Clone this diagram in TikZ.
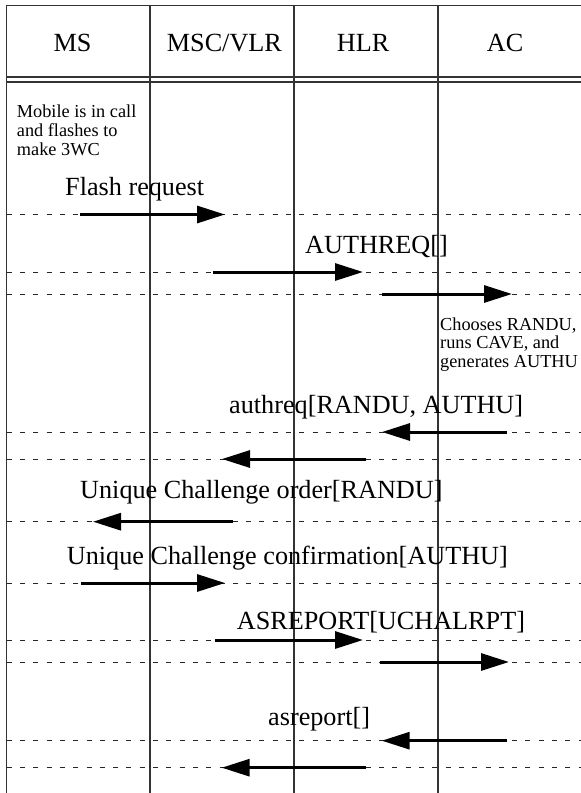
\documentclass[tikz,border=0pt]{standalone}
\usepackage{fontspec}
\setmainfont{Liberation Serif}
\usetikzlibrary{arrows.meta}
\begin{document}
\begin{tikzpicture}[x=1pt,y=-1pt,
  frame/.style={line width=1.4pt,draw=black!80},
  lifeline/.style={line width=1.2pt,draw=black!80},
  guide/.style={line width=0.9pt,draw=black!85,dash pattern=on 5pt off 8.3pt},
  msg/.style={line width=3pt,-{Triangle[length=28pt,width=17pt]}},
  big/.style={font=\fontsize{26.2}{30}\selectfont,inner sep=0pt,anchor=base west},
  note/.style={font=\fontsize{18.3}{18.6}\selectfont,inner sep=0pt,anchor=base west,align=left}]
\useasboundingbox (0,0) rectangle (581,793);

% header box and the rule under it
\draw[frame] (581,5.7) -- (6.7,5.7) -- (6.7,77) -- (581,77);
\draw[frame] (6.7,82) -- (581,82);

% lifelines
\draw[frame] (6.7,5.7) -- (6.7,793);
\foreach \x in {150,294,438}
  \draw[lifeline] (\x,5.7) -- (\x,793);

% entity names
\node[big] (ms)  at (53.3,51.7)  {MS};
\node[big] (msc) at (166.7,51.7) {MSC/VLR};
\node[big] (hlr) at (336.7,51.7) {HLR};
\node[big] (ac)  at (486.7,51.7) {AC};

% notes (anchored on the baseline of their last line)
\node[note] (mobnote) at (16.7,155) {Mobile is in call\\and flashes to\\make 3WC};
\node[note] (acnote) at (440,367.2) {Chooses RANDU,\\runs CAVE, and\\generates AUTHU};

% message rows: index / y / tail x / tip x
\foreach \i/\y/\a/\b in {1/214.5/80/225, 2/272/213/363, 3/294/382/512,
    4/432/507/382, 5/459/366/222, 6/521.7/233/93, 7/583/80.7/225,
    8/640/215/363, 9/662/380/509, 10/740.7/507/381.7, 11/767.7/366/221.7}{
  \coordinate (l\i) at (6.7,\y);
  \coordinate (r\i) at (581,\y);
  \coordinate (s\i) at (\a,\y);
  \coordinate (e\i) at (\b,\y);
  \draw[guide] (l\i) -- (r\i);
  \draw[msg] (s\i) -- (e\i);
}

% message labels
\node[big] (t1) at (65,195)    {Flash request};
\node[big] (t2) at (305,253)   {AUTHREQ[]};
\node[big] (t4) at (229,413)   {authreq[RANDU, AUTHU]};
\node[big] (t6) at (80,498)    {Unique Challenge order[RANDU]};
\node[big] (t7) at (66.7,564)  {Unique Challenge confirmation[AUTHU]};
\node[big] (t8) at (236.7,629) {ASREPORT[UCHALRPT]};
\node[big] (t10) at (268,725)  {asreport[]};
\end{tikzpicture}
\end{document}
